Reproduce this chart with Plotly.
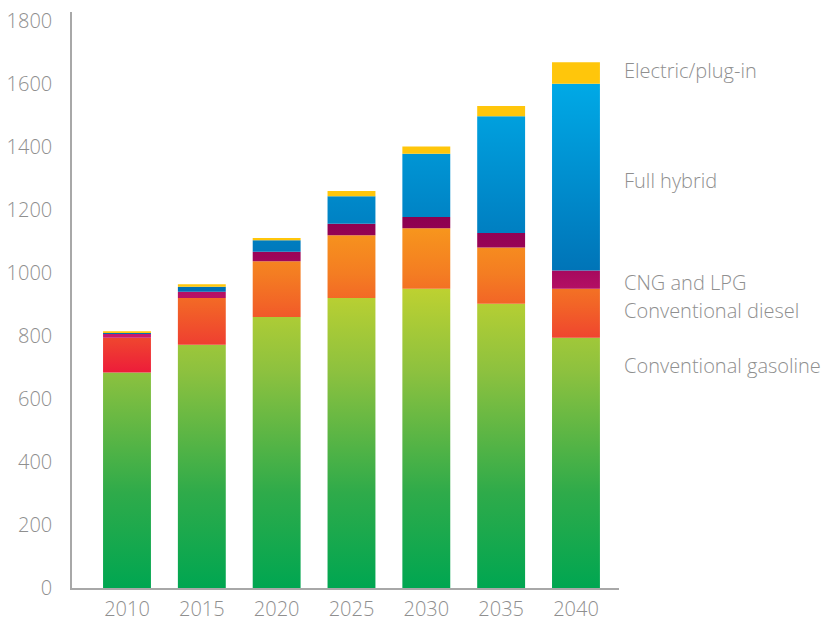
import plotly.graph_objects as go

years = ["2010", "2015", "2020", "2025", "2030", "2035", "2040"]
gasoline = [685, 773, 861, 921, 951, 903, 795]
diesel = [110, 148, 177, 200, 192, 179, 156]
cng_lpg = [12, 20, 30, 36, 36, 46, 58]
hybrid = [3, 16, 37, 88, 201, 371, 593]
electric = [6, 8, 7, 16, 23, 32, 68]

series_names = ["Conventional gasoline", "Conventional diesel", "CNG and LPG",
                "Full hybrid", "Electric/plug-in"]
series_values = [gasoline, diesel, cng_lpg, hybrid, electric]

# vertical gradient per series: (start, stop, colorscale) in axis units
gradients = [
    (0, 950, [[0, "#00a651"], [0.32, "#2fab4a"], [0.72, "#8cc13f"], [1, "#bdd131"]]),
    (685, 1140, [[0, "#ed1c3a"], [0.21, "#ef4130"], [0.47, "#f26427"], [0.69, "#f47d22"], [1, "#f7951d"]]),
    (800, 1180, [[0, "#c71a6e"], [0.4, "#b30f64"], [0.66, "#9d0559"], [1, "#8c004f"]]),
    (950, 1600, [[0, "#006fb3"], [1, "#00a9e6"]]),
    (0, 1800, [[0, "#ffc60b"], [1, "#ffc60b"]]),
]

label_y = [708, 883, 972, 1296, 1645]

half_w = 0.32
fig = go.Figure()
base = [0] * len(years)
for name, vals, (g0, g1, cs) in zip(series_names, series_values, gradients):
    xs, ys = [], []
    for i, v in enumerate(vals):
        b = base[i]
        t = b + v
        xs += [i - half_w, i + half_w, i + half_w, i - half_w, i - half_w, None]
        ys += [b, b, t, t, b, None]
    base = [b + v for b, v in zip(base, vals)]
    fig.add_trace(go.Scatter(
        x=xs, y=ys, mode="lines", fill="toself", name=name,
        line=dict(width=0, color=cs[-1][1]),
        fillgradient=dict(type="vertical", colorscale=cs, start=g0, stop=g1),
        hoverinfo="skip", showlegend=False,
    ))

font_family = "'Open Sans', Lato, sans-serif"
for name, y in zip(series_names, label_y):
    fig.add_annotation(x=1.006, xref="paper", y=y, yref="y", text=name,
                       showarrow=False, xanchor="left", yanchor="middle",
                       font=dict(family=font_family, size=20, color="#8f8f8f", weight=300))

fig.update_layout(
    width=838, height=621,
    margin=dict(l=72, r=219, t=12, b=33, autoexpand=False),
    paper_bgcolor="white", plot_bgcolor="white",
    font=dict(family=font_family, size=20, color="#8f8f8f", weight=300),
    showlegend=False,
)
fig.update_xaxes(
    range=[-0.735, 6.575], tickvals=list(range(len(years))), ticktext=years,
    showgrid=False, zeroline=False, showline=True, linecolor="#a8a8a8", linewidth=1.5,
    ticks="", ticklabelstandoff=2, fixedrange=True, automargin=False,
)
fig.update_yaxes(
    range=[0, 1830], tickvals=list(range(0, 1801, 200)),
    showgrid=False, zeroline=False, showline=True, linecolor="#a8a8a8", linewidth=1.5,
    ticks="", ticklabelstandoff=14, fixedrange=True, automargin=False,
)

fig.write_html("out.html")
